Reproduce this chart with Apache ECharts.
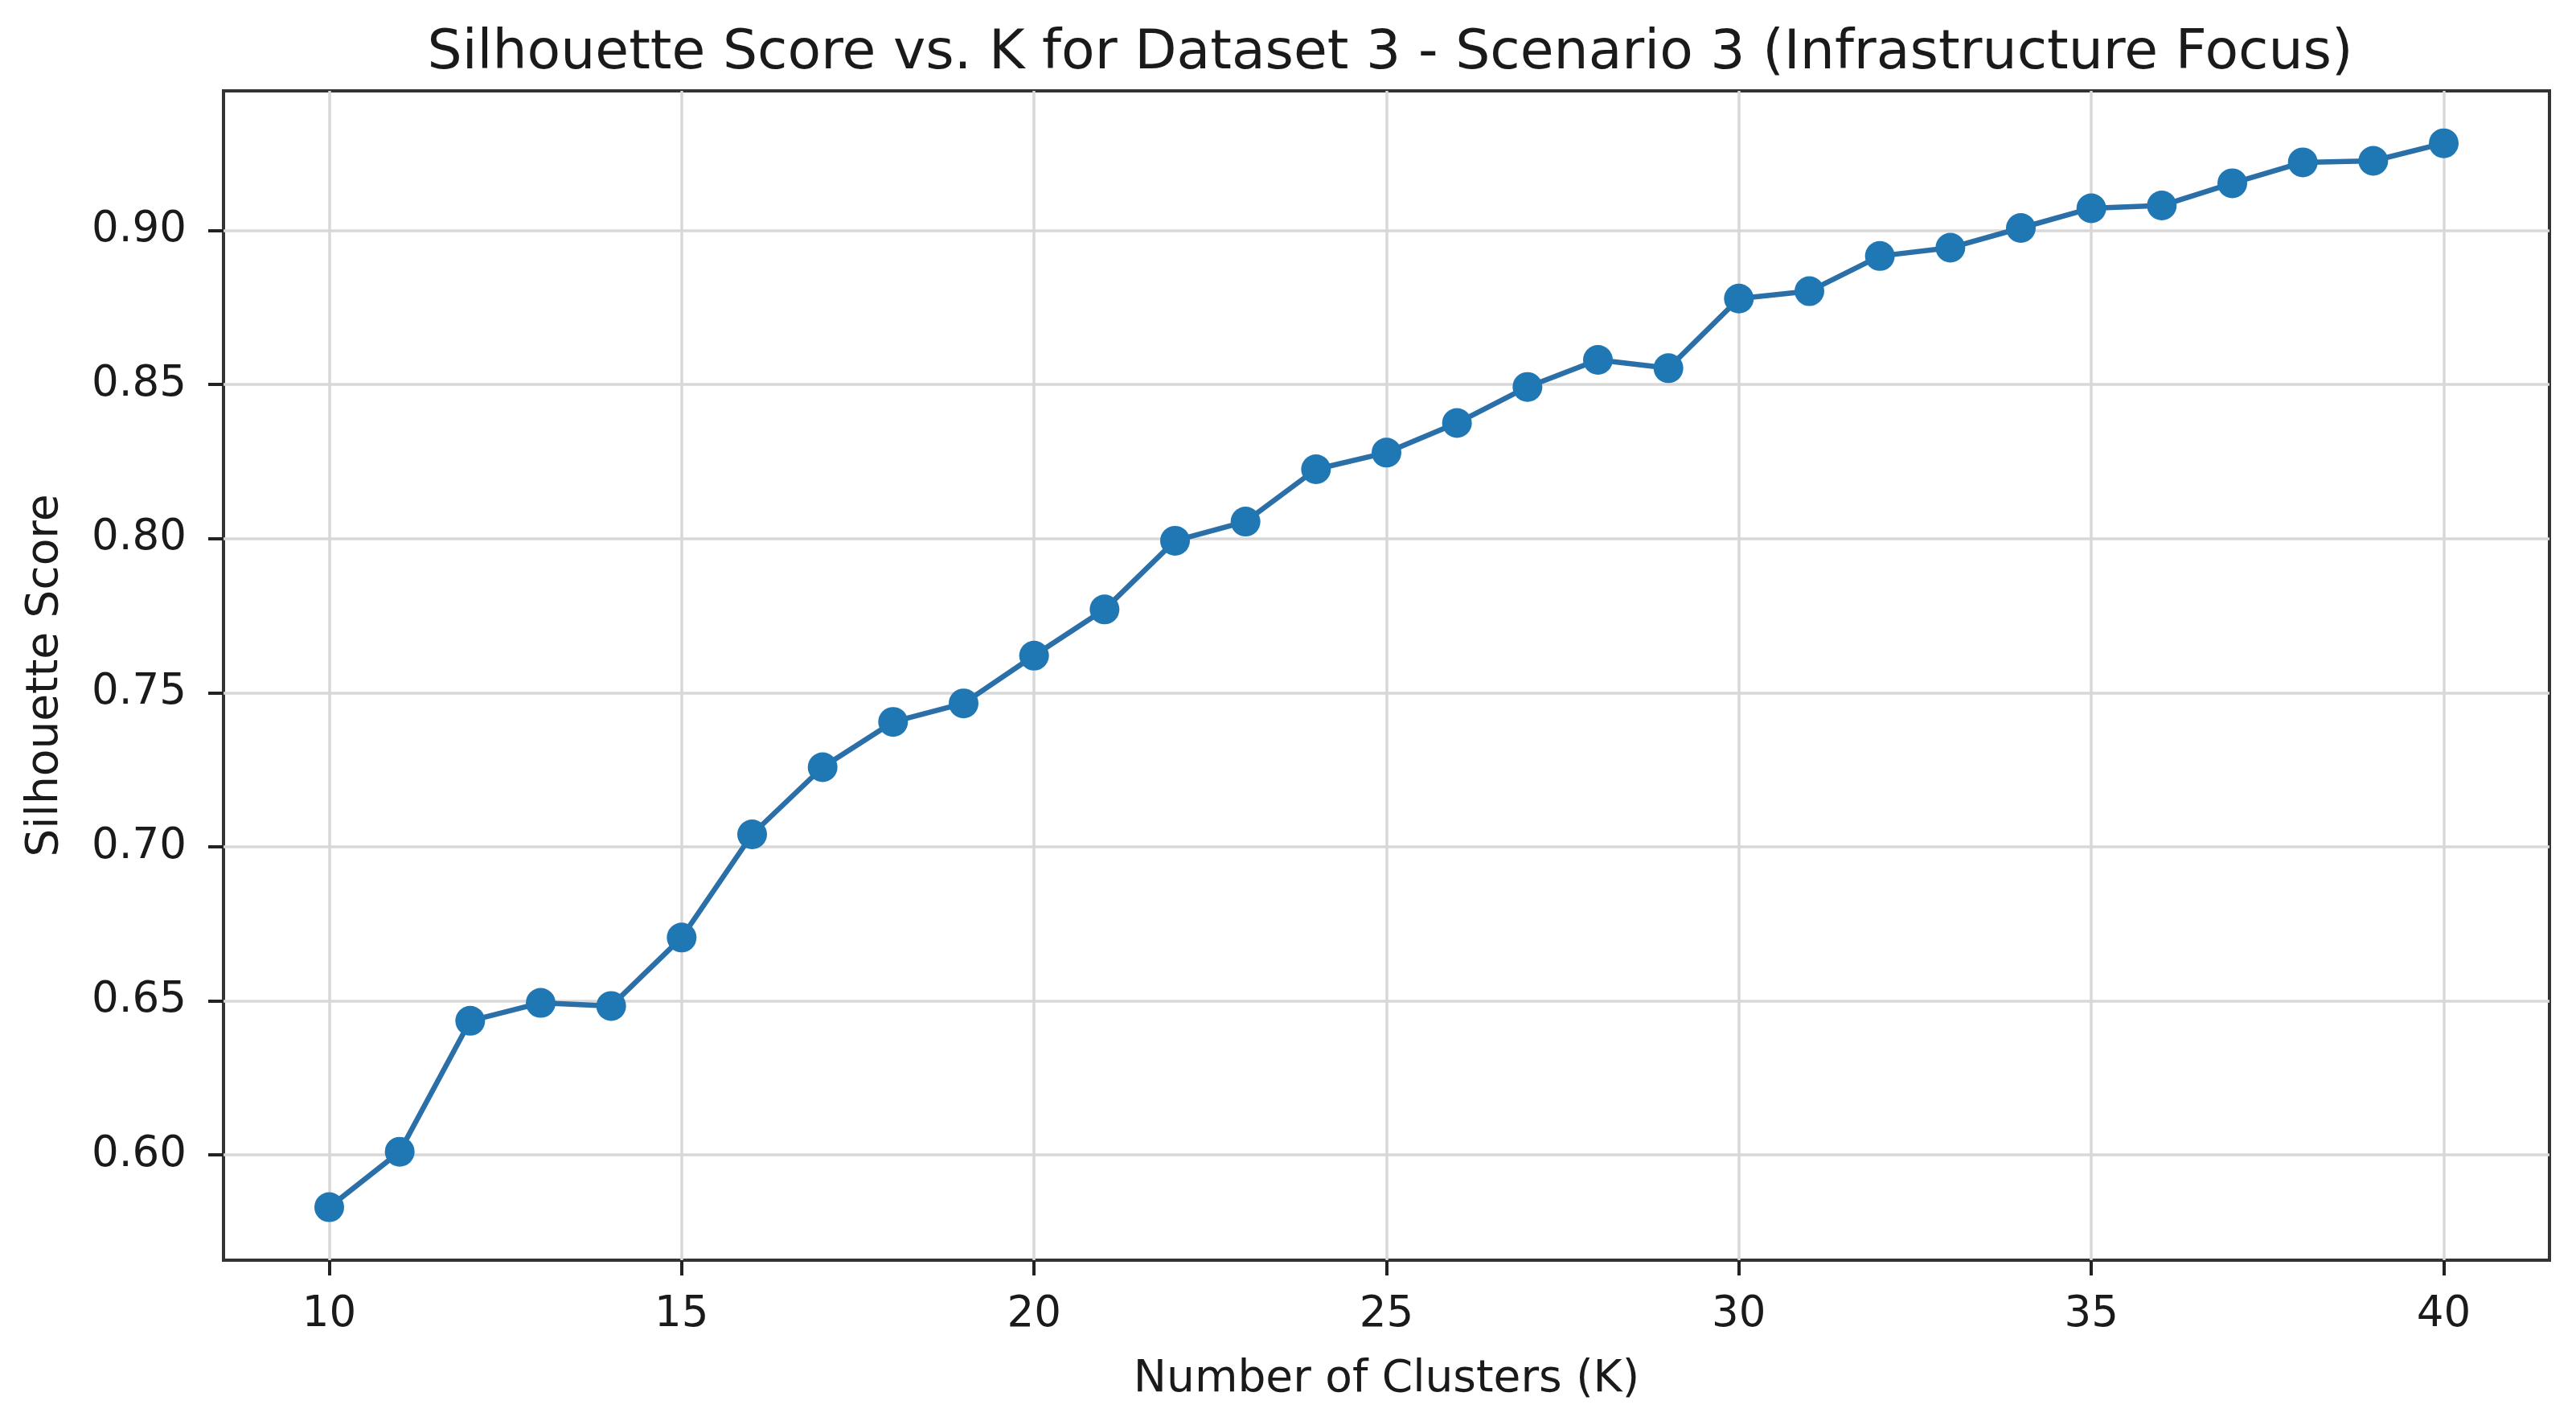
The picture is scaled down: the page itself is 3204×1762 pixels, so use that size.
<!DOCTYPE html>
<html>
<head>
<meta charset="utf-8">
<script src="https://cdn.jsdelivr.net/npm/echarts@6/dist/echarts.min.js"></script>
<style>
html,body{margin:0;padding:0;background:#fff;}
#chart{width:3204px;height:1762px;}
</style>
</head>
<body>
<div id="chart"></div>
<script>
// data
var kValues = [10,11,12,13,14,15,16,17,18,19,20,21,22,23,24,25,26,27,28,29,30,31,32,33,34,35,36,37,38,39,40];
var scores = [0.583,0.601,0.6435,0.6493,0.6483,0.6705,0.704,0.7258,0.7405,0.7465,0.762,0.777,0.7993,0.8055,0.8225,0.8279,0.8375,0.8492,0.858,0.8553,0.8779,0.8803,0.8917,0.8944,0.9008,0.9072,0.9081,0.9153,0.9221,0.9226,0.9283];
var xTicks = [10,15,20,25,30,35,40];
var yTicks = [0.60,0.65,0.70,0.75,0.80,0.85,0.90];

var font = 'DejaVu Sans';
var textColor = '#1a1a1a';

var points = [];
for (var i = 0; i < kValues.length; i++) {
	points.push([kValues[i], scores[i]]);
}

var myChart = echarts.init(document.getElementById('chart'), null, {renderer: 'canvas'});
var option = {
	animation: false,
	backgroundColor: '#fff',
	title: {
		text: 'Silhouette Score vs. K for Dataset 3 - Scenario 3 (Infrastructure Focus)',
		left: 1724,
		textAlign: 'center',
		top: 28,
		textStyle: {fontFamily: font, fontSize: 68, fontWeight: 'normal', color: textColor}
	},
	grid: {
		left: 278,
		right: 33,
		top: 113,
		bottom: 195,
		show: true,
		borderColor: '#333',
		borderWidth: 4,
		backgroundColor: 'transparent'
	},
	xAxis: {
		type: 'value',
		min: 8.5,
		max: 41.5,
		name: 'Number of Clusters (K)',
		nameLocation: 'middle',
		nameGap: 121,
		nameTextStyle: {fontFamily: font, fontSize: 55, color: textColor},
		axisLine: {show: false},
		axisTick: {show: true, length: 19, lineStyle: {color: '#222', width: 4}, customValues: xTicks},
		axisLabel: {
			customValues: xTicks,
			margin: 42,
			fontFamily: font, fontSize: 53, color: textColor
		},
		splitLine: {show: true, lineStyle: {color: '#d8d8d8', width: 3.5}}
	},
	yAxis: {
		type: 'value',
		min: 0.5658,
		max: 0.9453,
		name: 'Silhouette Score',
		nameLocation: 'middle',
		nameGap: 194,
		nameTextStyle: {fontFamily: font, fontSize: 55, color: textColor},
		axisLine: {show: false},
		axisTick: {show: true, length: 19, lineStyle: {color: '#222', width: 4}, customValues: yTicks},
		axisLabel: {
			customValues: yTicks,
			margin: 46,
			fontFamily: font, fontSize: 53, color: textColor,
			formatter: function (v) { return v.toFixed(2); }
		},
		splitLine: {show: true, lineStyle: {color: '#d8d8d8', width: 3.5}}
	},
	series: [{
		type: 'line',
		data: points,
		symbol: 'circle',
		symbolSize: 37,
		itemStyle: {color: '#1f77b4'},
		lineStyle: {color: '#2a6fa8', width: 6.5},
		z: 3
	}]
};
myChart.setOption(option);
</script>
</body>
</html>
